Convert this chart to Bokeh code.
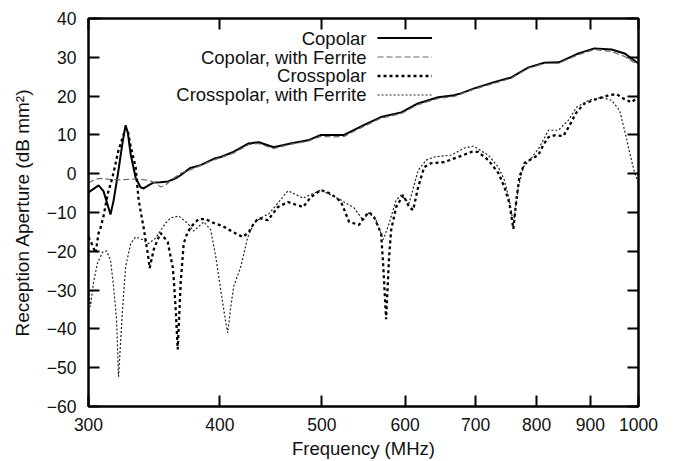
from bokeh.plotting import figure
from bokeh.models import (Range1d, FixedTicker, LogAxis, LinearAxis, Label,
                          Legend, LegendItem)
from bokeh.embed import file_html
from bokeh.resources import INLINE

# ---------------- data ----------------
x_ticks = [300, 400, 500, 600, 700, 800, 900, 1000]
y_ticks = [-60, -50, -40, -30, -20, -10, 0, 10, 20, 30, 40]

copolar_f = [300, 306.7, 310, 314.8, 316.9, 320, 323.2, 325.4, 327, 329, 332.6,
             336.2, 338.5, 343, 346, 351, 357, 363, 367, 375, 383.5, 396, 400.7,
             412, 426, 435.6, 450, 467, 485, 499, 513, 525, 548, 569, 595, 617,
             645, 668, 678, 698, 729, 757, 786, 814, 840, 877, 908, 943, 970, 1000]
copolar_v = [-4.8, -3.0, -4.5, -10.5, -7.0, 0.0, 8.0, 12.5, 10.5, 5.0, -1.0,
             -3.5, -3.8, -2.8, -2.3, -2.2, -2.0, -1.2, -0.4, 1.5, 2.2, 4.0, 4.3,
             5.6, 7.8, 8.1, 6.8, 7.8, 8.6, 10.0, 10.0, 10.0, 12.5, 14.6, 15.8, 18.1,
             19.7, 20.2, 20.7, 22.0, 23.6, 24.8, 27.4, 28.6, 28.7, 31.0, 32.3, 32.0, 31.0, 28.4]

copolar_fer_f = [300, 304, 308, 315, 322, 329, 336, 343, 348, 351.3, 355, 360,
                 367, 378, 396, 412, 426, 435, 450, 467, 485, 499, 513, 525, 548,
                 569, 595, 617, 645, 668, 698, 729, 757, 786, 814, 840, 877, 908,
                 943, 970, 1000]
copolar_fer_v = [-2.4, -1.5, -1.2, -1.5, -1.6, -1.4, -1.4, -1.8, -2.5, -3.4, -3.0, -1.5,
                 0.1, 1.4, 3.7, 5.3, 7.5, 7.8, 6.5, 7.6, 8.4, 9.6, 9.5, 9.6, 12.2,
                 14.3, 15.5, 17.8, 19.4, 19.9, 21.8, 23.3, 24.6, 27.2, 28.4, 28.5, 30.7, 32.0,
                 31.5, 30.2, 28.0]

cross_f = [300, 302.6, 304.7, 306.7, 308, 310, 313, 316.2, 320.4, 325.4, 327, 329,
           332.6, 334.8, 338.5, 341.5, 343, 346, 349, 351.3, 356.8, 360.7, 361.5,
           363.1, 364.7, 367.1, 369.5, 372.8, 376.9, 381.8, 387.8, 394.6, 402.5,
           411.4, 420.6, 426.2, 430.9, 435.6, 444.3, 454.1, 464.2, 479.8, 488.2,
           499, 510, 521.4, 530.7, 542.4, 548.4, 554.5, 560.6, 569.2, 571.7, 575.5,
           579.3, 581.9, 588.3, 597.4, 605.3, 610.6, 617.4, 625.6, 635.2, 653.6,
           674, 693.5, 704, 719.8, 735.8, 745.5, 753.8, 760.4, 765.4, 770.5, 779,
           803, 812, 821, 832, 848.5, 858, 873, 888.5, 916, 937, 953, 970, 985, 1000]
cross_v = [-16.3, -18.4, -20.4, -15.3, -14.0, -11.0, -5.0, -0.9, 6.1, 11.7, 11.0, 7.0,
           1.7, -6.8, -14.0, -20.4, -24.3, -19.6, -17.0, -15.3, -17.6, -24.0, -27.0,
           -35.0, -45.3, -28.0, -18.0, -15.0, -13.2, -11.7, -11.7, -12.7, -13.5,
           -15.0, -16.3, -15.0, -12.8, -11.4, -12.0, -8.6, -7.3, -8.6, -6.0,
           -4.2, -5.2, -7.2, -12.4, -13.2, -11.2, -9.9, -11.2, -15.4, -23.0, -37.5,
           -21.4, -14.5, -8.6, -5.5, -8.6, -9.4, -3.4, 1.7, 2.7, 3.0,
           4.3, 5.6, 5.6, 3.5, 0.2, -3.4, -7.6, -14.2, -6.8, -0.9, 2.7,
           4.8, 7.4, 9.4, 9.9, 9.7, 12.0, 15.8, 18.1, 19.4, 20.2, 20.5, 19.2, 18.4, 20.0]

cross_fer_f = [300, 301.3, 303.3, 306, 309.4, 312.1, 314.8, 316.9, 319, 320.4, 323.2,
               325.4, 329, 332.6, 337.7, 342.2, 347.5, 355.2, 359.1, 365.5, 372.8,
               377.7, 386.1, 392, 396.4, 400.7, 405.2, 406.9, 409.6, 412.3, 418.7,
               425.2, 430.9, 437.5, 445.3, 454.1, 464.2, 479.8, 499, 510, 521.4,
               536.5, 547.2, 554.5, 563, 569.2, 572, 579.3, 588.3, 594.8, 605.3,
               617.4, 628.3, 639.4, 663.7, 682.9, 696.5, 719.8, 735.8, 745.5, 753.8,
               760.4, 768.8, 777.2, 791, 805, 821, 839, 858, 873, 896, 922, 943,
               959.5, 970, 981, 991.6, 1000]
cross_fer_v = [-30.0, -34.3, -28.0, -23.0, -20.2, -19.9, -22.2, -29.0, -37.6, -52.3, -35.0,
               -24.0, -18.0, -16.3, -17.0, -18.0, -16.6, -12.7, -11.4, -10.9, -12.8,
               -14.8, -12.4, -14.5, -21.4, -30.0, -38.4, -41.0, -34.3, -29.0, -24.0,
               -16.3, -12.8, -11.4, -10.3, -7.6, -4.4, -6.3, -4.2, -5.5, -6.8,
               -8.8, -12.0, -10.0, -12.0, -15.4, -17.0, -12.8, -6.8, -5.5, -7.6,
               0.9, 3.5, 4.3, 4.8, 6.6, 7.1, 4.8, 1.7, -1.6, -6.8,
               -13.0, -3.4, 1.7, 4.0, 6.8, 11.2, 11.2, 13.8, 17.1, 18.9, 19.7, 18.9,
               16.3, 11.2, 5.3, 0.2, -2.4]

series_names = ["Copolar", "Copolar, with Ferrite", "Crosspolar",
                "Crosspolar, with Ferrite"]

# ---------------- figure ----------------
FONT = "Liberation Sans"

p = figure(frame_width=550, frame_height=388, x_axis_type="log",
           x_range=Range1d(300, 1000), y_range=Range1d(-60, 40),
           output_backend="svg", toolbar_location=None,
           min_border_left=88, min_border_right=30, min_border_top=18,
           min_border_bottom=55)
p.background_fill_color = "white"
p.border_fill_color = "white"
p.outline_line_color = "black"
p.outline_line_width = 2
p.xgrid.visible = False
p.ygrid.visible = False


def style_axis(ax, ticks, show_labels):
    ax.ticker = FixedTicker(ticks=ticks, minor_ticks=[])
    ax.major_tick_in = 11
    ax.major_tick_out = 0
    ax.minor_tick_in = 0
    ax.minor_tick_out = 0
    ax.major_tick_line_width = 2
    ax.major_tick_line_color = "black"
    ax.axis_line_width = 2
    ax.axis_line_color = "black"
    ax.major_label_text_font = FONT
    ax.major_label_text_color = "#111111"
    ax.major_label_text_font_size = "17.5px"
    if not show_labels:
        ax.major_label_overrides = {t: "" for t in ticks}
        ax.major_label_standoff = 0


xa = p.xaxis[0]
style_axis(xa, x_ticks, True)
xa.major_label_overrides = {t: str(t) for t in x_ticks}
xa.major_label_standoff = 11
xa.axis_label = "Frequency (MHz)"
xa.axis_label_text_font = FONT
xa.axis_label_text_font_style = "normal"
xa.axis_label_text_font_size = "18.5px"
xa.axis_label_text_color = "#111111"
xa.axis_label_standoff = 4

ya = p.yaxis[0]
style_axis(ya, y_ticks, True)
ya.major_label_standoff = 12
ya.axis_label = "Reception Aperture (dB mm²)"
ya.axis_label_text_font = FONT
ya.axis_label_text_font_style = "normal"
ya.axis_label_text_font_size = "19px"
ya.axis_label_text_color = "#111111"
ya.axis_label_standoff = 11

top = LogAxis()
style_axis(top, x_ticks, False)
p.add_layout(top, "above")
right = LinearAxis()
style_axis(right, y_ticks, False)
p.add_layout(right, "right")

# ---------------- series ----------------
r1 = p.line(copolar_f, copolar_v, line_color="black", line_width=2)
r2 = p.line(copolar_fer_f, copolar_fer_v, line_color="#666666", line_width=1.2,
            line_dash="6 3")
r3 = p.line(cross_f, cross_v, line_color="black", line_width=2.3,
            line_dash="3 3")
r4 = p.line(cross_fer_f, cross_fer_v, line_color="#222222", line_width=1.2,
            line_dash="2 2")

# ---------------- legend (gnuplot style: text right-aligned, sample to the right)
legend = Legend(items=[LegendItem(label=" ", renderers=[r]) for r in (r1, r2, r3, r4)],
                location=(289, 302), orientation="vertical",
                glyph_width=55, glyph_height=19, label_width=0, label_height=19,
                label_standoff=0, label_text_font_size="6px", spacing=0,
                padding=0, margin=0, border_line_alpha=0,
                background_fill_alpha=0)
p.add_layout(legend, "center")

row_y = [368, 349.3, 330.6, 311.9]
for name, yy in zip(series_names, row_y):
    p.add_layout(Label(x=278, y=yy, x_units="screen", y_units="screen",
                       text=name, text_align="right", text_baseline="middle",
                       text_font=FONT, text_font_size="18.5px",
                       text_color="#111111"))

open("out.html", "w").write(file_html(p, INLINE))
